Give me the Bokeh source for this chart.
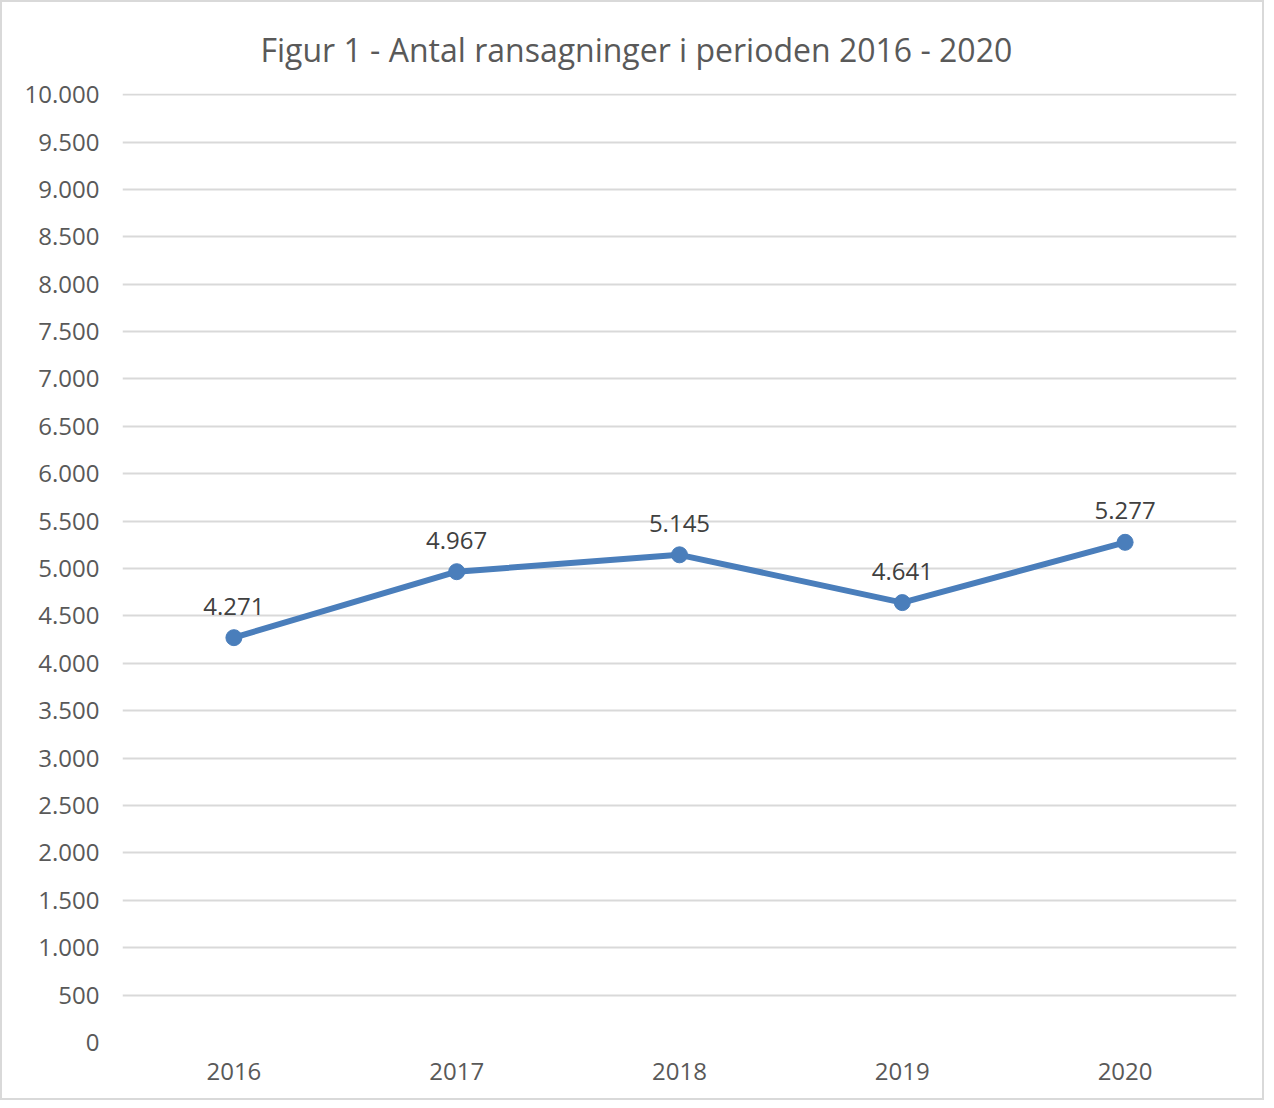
from bokeh.plotting import figure
from bokeh.models import FixedTicker, ColumnDataSource, LabelSet, Range1d
from bokeh.core.properties import value
from bokeh.embed import file_html
from bokeh.resources import INLINE

title_text = "Figur 1 - Antal ransagninger i perioden  2016 - 2020"
categories = ["2016", "2017", "2018", "2019", "2020"]
values = [4271, 4967, 5145, 4641, 5277]
y_ticks = list(range(0, 10001, 500))

def fmt(v):
    return f"{v:,}".replace(",", ".")

labels = [fmt(v) for v in values]
tick_labels = {t: fmt(t) for t in y_ticks}

src = ColumnDataSource(dict(x=categories, y=values, lab=labels))

p = figure(x_range=categories, y_range=Range1d(0, 10012), width=1264, height=1100,
           output_backend="svg", toolbar_location=None, title=title_text,
           min_border_left=120, min_border_right=30, min_border_top=91, min_border_bottom=60)
p.x_range.range_padding = 0
p.title.align = "left"
p.title.vertical_align = "top"
p.title.text_font = "Open Sans"
p.title.text_font_size = "32px"
p.title.text_font_style = "normal"
p.title.text_color = "#595959"
p.title.offset = 138
p.title.standoff = 42

p.outline_line_color = None
p.xgrid.grid_line_color = None
p.ygrid.grid_line_color = "#d9d9d9"
p.ygrid.grid_line_width = 2
p.yaxis.ticker = FixedTicker(ticks=y_ticks)
p.yaxis.major_label_overrides = tick_labels
for ax in (p.xaxis[0], p.yaxis[0]):
    ax.axis_line_color = None
    ax.major_tick_line_color = None
    ax.minor_tick_line_color = None
    ax.major_tick_out = 0
    ax.major_tick_in = 0
    ax.major_label_text_font = "Open Sans"
    ax.major_label_text_font_size = "24px"
    ax.major_label_text_color = "#595959"
p.yaxis.major_label_standoff = 23
p.xaxis.major_label_standoff = 20

p.line("x", "y", source=src, line_color="#4a7ebb", line_width=6)
p.scatter("x", "y", source=src, size=16, fill_color="#4a7ebb", line_color="#4a7ebb")
p.add_layout(LabelSet(x="x", y="y", text="lab", source=src, text_align="center",
                      text_baseline="bottom", y_offset=23, text_font=value("Open Sans"),
                      text_font_size=value("24px"), text_color="#404040"))

p.styles = {"border": "2px solid #d9d9d9"}

open("out.html", "w").write(file_html(p, INLINE))
